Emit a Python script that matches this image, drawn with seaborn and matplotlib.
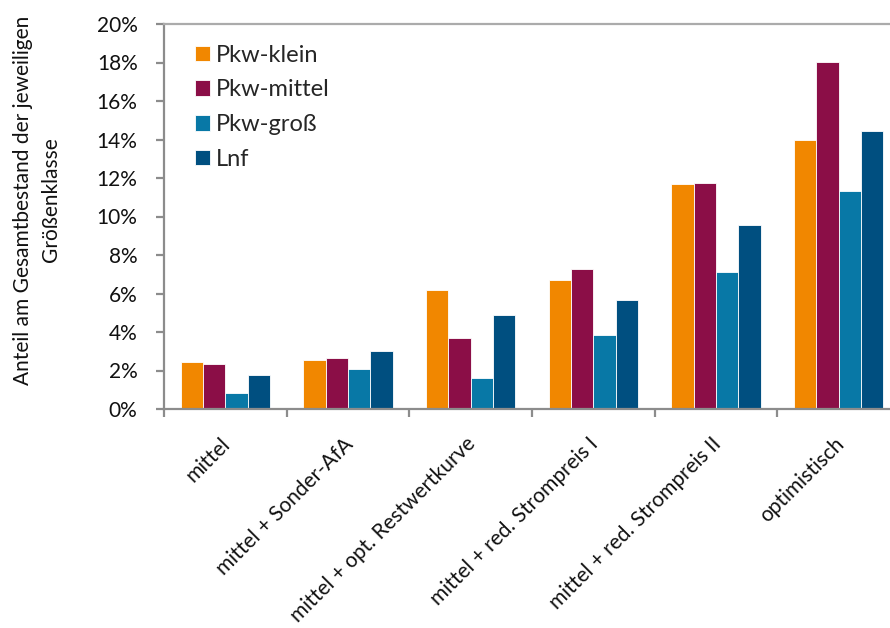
import matplotlib
matplotlib.use("Agg")
import matplotlib.pyplot as plt
import matplotlib.transforms as mtransforms
from matplotlib.ticker import MultipleLocator, FixedLocator, FuncFormatter
import pandas as pd
import seaborn as sns

# Scenario categories and vehicle size classes
scenarios = [
    "mittel",
    "mittel + Sonder-AfA",
    "mittel + opt. Restwertkurve",
    "mittel + red. Strompreis I",
    "mittel + red. Strompreis II",
    "optimistisch",
]
classes = ["Pkw-klein", "Pkw-mittel", "Pkw-groß", "Lnf"]

# Share of total stock per size class (%)
pkw_klein = [2.44, 2.56, 6.16, 6.72, 11.69, 13.97]
pkw_mittel = [2.32, 2.63, 3.67, 7.27, 11.74, 18.04]
pkw_gross = [0.83, 2.08, 1.61, 3.84, 7.13, 11.31]
lnf = [1.77, 3.01, 4.87, 5.65, 9.56, 14.42]

colors = ["#F18700", "#8B0E47", "#0878A6", "#004F80"]

rows = []
for cls, vals in zip(classes, [pkw_klein, pkw_mittel, pkw_gross, lnf]):
    for sc, v in zip(scenarios, vals):
        rows.append({"Szenario": sc, "Klasse": cls, "Anteil": v})
df = pd.DataFrame(rows)

sns.set_style("white")
plt.rcParams["font.family"] = ["Lato", "DejaVu Sans"]

W, H = 890, 628
fig = plt.figure(figsize=(W / 100, H / 100), dpi=100)
ax = fig.add_axes([164 / W, 219 / H, 736 / W, 385 / H])

sns.barplot(
    data=df, x="Szenario", y="Anteil", hue="Klasse",
    order=scenarios, hue_order=classes, palette=colors,
    width=0.726, saturation=1, edgecolor="white", linewidth=0.6,
    errorbar=None, ax=ax,
)

ax.set_xlim(-0.5, 5.5)
ax.set_ylim(0, 20)
ax.set_xlabel("")
ax.set_ylabel("")

axis_gray = "#8c8c8c"
for side in ["left", "bottom"]:
    ax.spines[side].set_color(axis_gray)
    ax.spines[side].set_linewidth(1.6)
ax.spines["top"].set_color("#ababab")
ax.spines["top"].set_linewidth(1.6)
ax.spines["right"].set_visible(False)

# y axis
ax.yaxis.set_major_locator(MultipleLocator(2))
ax.yaxis.set_major_formatter(FuncFormatter(lambda v, p: f"{v:.0f}%"))
ax.tick_params(axis="y", which="major", direction="out", length=6, width=1.6,
               color=axis_gray, pad=13, labelsize=15, labelcolor="#111111",
               left=True)

# x axis: ticks at category boundaries, labels at centers
ax.xaxis.set_minor_locator(FixedLocator([i - 0.5 for i in range(len(scenarios) + 1)]))
ax.tick_params(axis="x", which="minor", direction="out", length=6, width=1.6,
               color=axis_gray, bottom=True)
ax.tick_params(axis="x", which="major", length=0, pad=23, labelsize=15,
               labelcolor="#111111")
offset = mtransforms.ScaledTranslation(2 / 100, 0, fig.dpi_scale_trans)
for lab in ax.get_xticklabels():
    lab.set_rotation(45)
    lab.set_ha("right")
    lab.set_va("center")
    lab.set_rotation_mode("anchor")
    lab.set_transform(lab.get_transform() + offset)

# legend
handles, labels = ax.get_legend_handles_labels()
ax.legend(
    handles, labels, loc="upper left", bbox_to_anchor=(0.042, 0.946),
    frameon=False, fontsize=17, handlelength=0.64, handleheight=0.64,
    handletextpad=0.26, labelspacing=0.58, borderpad=0, borderaxespad=0,
)

fig.text(37 / W, 1 - 200 / H, "Anteil am Gesamtbestand der jeweiligen\nGrößenklasse",
         rotation=90, ha="center", va="center", multialignment="center",
         fontsize=15, linespacing=1.45, color="#111111")

fig.savefig("out.png", dpi=100)
